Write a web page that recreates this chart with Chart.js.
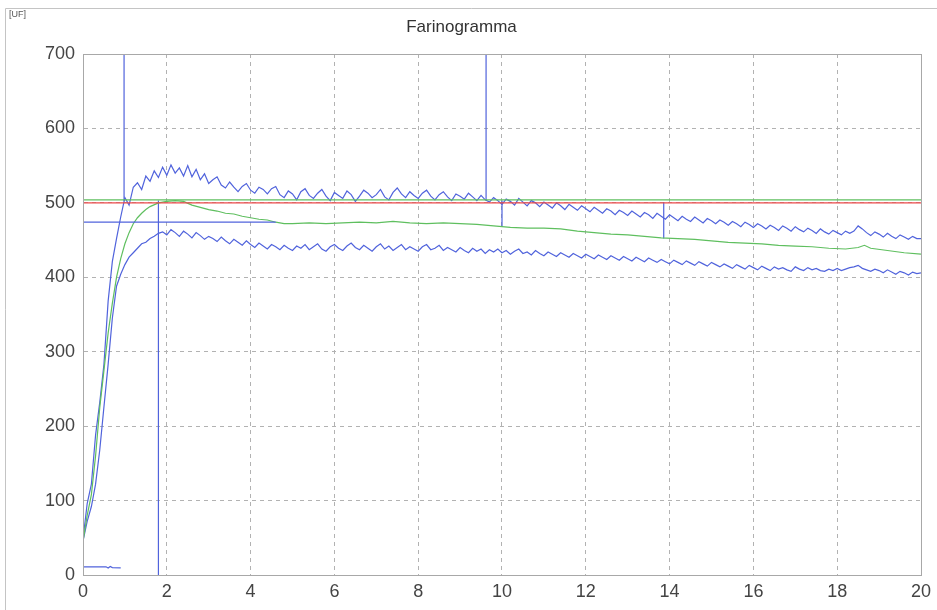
<!DOCTYPE html>
<html>
<head>
<meta charset="utf-8">
<title>Farinogramma</title>
<script src="https://cdn.jsdelivr.net/npm/chart.js@4/dist/chart.umd.min.js"></script>
<style>
    html, body { margin: 0; padding: 0; background: #fff; }
    #wrap { position: relative; width: 937px; height: 610px; }
</style>
</head>
<body>
<div id="wrap"><canvas id="farinoChart" width="937" height="610"></canvas></div>
<script>
// ── Data ─────────────────────────────────────────────────────
const TITLE      = 'Farinogramma';
const UNIT_LABEL = '[UF]';
const SAMPLE_STEP = 0.1;   // minutes between samples of the band curves

// upper band edge, one value every 0.1 min from 0 to 20
const upperBand = [
    48, 96, 122, 188, 232, 283, 368, 421, 452, 481,
    507, 497, 521, 527, 518, 536, 529, 543, 534, 548,
    537, 551, 540, 547, 536, 550, 535, 545, 531, 539,
    526, 531, 535, 524, 520, 528, 521, 515, 522, 526,
    517, 513, 521, 518, 512, 519, 522, 511, 507, 516,
    512, 504, 515, 519, 510, 506, 513, 518, 509, 503,
    514, 510, 506, 516, 511, 502, 509, 517, 513, 507,
    511, 518, 508, 504, 514, 520, 512, 507, 515, 510,
    506, 513, 517, 509, 504, 511, 515, 508, 503, 512,
    509, 505, 513, 508, 503, 510, 504, 501, 507, 503,
    498, 505, 502, 497, 506, 501, 496, 503, 500, 495,
    501, 497, 493, 500, 496, 491, 498, 494, 490, 496,
    492, 488, 494, 490, 486, 492, 489, 484, 490, 487,
    483, 489, 485, 481, 487, 484, 479, 486, 482, 478,
    484, 480, 476, 482, 478, 475, 481, 477, 473, 479,
    476, 472, 477, 474, 470, 475, 472, 468, 474, 471,
    467, 472, 469, 465, 470, 467, 463, 469, 466, 462,
    468, 464, 461, 466, 463, 459, 465, 461, 458, 463,
    460, 457, 462, 459, 462, 469, 465, 460, 456, 461,
    458, 454, 459, 455, 452, 457, 454, 451, 455, 452,
    452
];

// lower band edge, same sampling
const lowerBand = [
    46, 72, 92, 122, 168, 226, 283, 345, 388, 404,
    417, 427, 433, 439, 445, 447, 452, 455, 459, 461,
    457, 464, 460, 455, 462, 458, 453, 460, 456, 451,
    455, 452, 448, 454, 449, 445, 451, 447, 443, 449,
    444, 440, 446, 442, 438, 444, 441, 437, 443, 439,
    436, 442, 439, 444, 437, 441, 445, 438, 435, 441,
    444, 439, 436, 442, 446, 440, 437, 443, 439, 435,
    441, 445, 438, 442, 436, 440, 444, 437, 441, 438,
    435, 441, 444, 437, 439, 443, 436, 440, 437, 434,
    440, 436, 433, 439, 435, 438, 432, 437, 434, 438,
    433, 436, 431, 435, 438, 432, 434, 430, 436, 432,
    429, 434, 431, 428, 433, 430, 427, 432, 429, 426,
    431, 428, 425, 430, 427, 424, 429, 426, 423, 428,
    425, 422, 427, 424, 421, 426, 423, 420, 424, 421,
    418, 423, 420, 417, 422, 419, 416, 421, 418, 415,
    420, 417, 414, 418, 415, 412, 417, 414, 411, 416,
    413, 410, 415, 412, 409, 414, 411, 413, 410, 408,
    414, 411, 409, 413, 410, 412, 409, 408, 411, 409,
    412, 409, 411, 413, 414, 416, 412, 410, 408, 411,
    409, 406, 410, 407, 404, 408, 406, 403, 407, 405,
    406
];

// smoothed middle curve
const medianTime = [
    0, 0.1, 0.2, 0.3, 0.4, 0.5, 0.6, 0.7, 0.8, 0.9,
    1.0, 1.1, 1.2, 1.3, 1.4, 1.5, 1.6, 1.8, 2.0, 2.2,
    2.4, 2.6, 2.8, 3.0, 3.2, 3.4, 3.6, 3.8, 4.0, 4.2,
    4.4, 4.6, 4.8, 5.0, 5.4, 5.8, 6.2, 6.6, 7.0, 7.4,
    7.8, 8.2, 8.6, 9.0, 9.4, 9.8, 10.2, 10.6, 11.0, 11.4,
    11.8, 12.2, 12.6, 13.0, 13.4, 13.8, 14.2, 14.6, 15.0, 15.4,
    15.8, 16.2, 16.6, 17.0, 17.4, 17.8, 18.2, 18.5, 18.65, 18.8,
    19.2, 19.6, 20.0
];
const medianValue = [
    45, 80, 108, 160, 225, 275, 325, 365, 400, 425,
    445, 460, 472, 480, 486, 491, 495, 500, 502, 503,
    502, 497, 494, 491, 489, 486, 485, 482, 480, 478,
    477, 474, 472, 472, 473, 472, 473, 474, 473, 475,
    473, 472, 473, 472, 471, 469, 467, 466, 466, 465,
    462, 460, 458, 457, 455, 453, 452, 451, 449, 447,
    446, 445, 443, 442, 441, 439, 438, 440, 443, 439,
    436, 433, 431
];

// reference levels
const consistencyLine = 500;   // red
const peakLine        = 504;   // green
const arrivalLine     = 474;   // blue, 0 → 4.6 min
const arrivalEnd      = 4.6;

// vertical markers
const markerX      = [0.98, 1.8, 9.62, 10.0, 13.86];
const markerTop    = [700, 503, 700, 503, 501];
const markerBottom = [502, 0, 503, 468, 452];

// baseline trace near zero
const baseTime  = [0, 0, 0.55, 0.6, 0.65, 0.7, 0.9];
const baseValue = [0, 11, 11, 9.5, 11.5, 10, 9.5];

const xTicksMax = 20;
const yTicksMax = 700;

// ── Helpers ───────────────────────────────────────────────────
const BLUE  = '#5063dc';
const GREEN = '#5fbf5f';
const RED   = '#ec4a4a';
const GRID  = '#b2b2b2';

const sampled = ys => ys.map((y, i) => ({ x: +(i * SAMPLE_STEP).toFixed(2), y }));
const paired  = (xs, ys) => xs.map((x, i) => ({ x, y: ys[i] }));

function lineSet(data, color, width) {
    return {
        data,
        borderColor: color,
        borderWidth: width || 1.2,
        pointRadius: 0,
        tension: 0,
        fill: false
    };
}

const datasets = [
    lineSet(paired([0, xTicksMax], [peakLine, peakLine]), GREEN, 1.2),
    lineSet(paired([0, xTicksMax], [consistencyLine, consistencyLine]), RED, 1.2),
    lineSet(paired([0, arrivalEnd], [arrivalLine, arrivalLine]), BLUE, 1.2),
    lineSet(paired(medianTime, medianValue), GREEN, 1.2),
    lineSet(sampled(upperBand), BLUE, 1.2),
    lineSet(sampled(lowerBand), BLUE, 1.2),
    lineSet(paired(baseTime, baseValue), BLUE, 1.2)
];
markerX.forEach((x, i) => {
    datasets.push(lineSet(paired([x, x], [markerTop[i], markerBottom[i]]), BLUE, 1.2));
});

// ── Frame + unit label ────────────────────────────────────────
const framePlugin = {
    id: 'frame',
    afterDraw(chart) {
        const { ctx, chartArea: a } = chart;
        ctx.save();
        ctx.strokeStyle = '#a8a8a8';
        ctx.lineWidth = 1;
        ctx.strokeRect(a.left + 0.5, a.top + 0.5, a.right - a.left, a.bottom - a.top);

        ctx.strokeStyle = '#c4c4c4';
        ctx.beginPath();
        ctx.moveTo(5.5, 610);
        ctx.lineTo(5.5, 8.5);
        ctx.lineTo(937, 8.5);
        ctx.stroke();

        ctx.fillStyle = '#555';
        ctx.font = '9px "Liberation Sans", Arial, sans-serif';
        ctx.textBaseline = 'middle';
        ctx.fillText(UNIT_LABEL, 9, 15);
        ctx.restore();
    }
};

// hide the grid line that sits on the frame edge
const gridColor = max => c => (c.tick && c.tick.value === max ? 'rgba(0,0,0,0)' : GRID);

// ── Chart ─────────────────────────────────────────────────────
const tickFont = { family: '"Liberation Sans", Arial, sans-serif', size: 18 };

new Chart(document.getElementById('farinoChart').getContext('2d'), {
    type: 'line',
    data: { datasets },
    plugins: [framePlugin],
    options: {
        responsive: false,
        animation: false,
        layout: { padding: { top: 0, right: 14, left: 0, bottom: 0 } },
        plugins: {
            legend: { display: false },
            tooltip: { enabled: false },
            title: {
                display: true,
                text: TITLE,
                color: '#333',
                font: { family: '"Liberation Sans", Arial, sans-serif', size: 17, weight: 'normal' },
                padding: { top: 17, bottom: 16.6 }
            }
        },
        scales: {
            x: {
                type: 'linear',
                min: 0,
                max: xTicksMax,
                ticks: { stepSize: 2, color: '#444', font: tickFont, padding: 6, maxRotation: 0 },
                grid: { color: gridColor(xTicksMax), drawTicks: false, lineWidth: 1 },
                border: { color: '#a8a8a8', dash: [4, 4] },
                afterFit: s => { s.height = 35; }
            },
            y: {
                min: 0,
                max: yTicksMax,
                ticks: { stepSize: 100, color: '#444', font: tickFont, padding: 8 },
                grid: { color: gridColor(yTicksMax), drawTicks: false, lineWidth: 1 },
                border: { color: '#a8a8a8', dash: [4, 4] },
                afterFit: s => { s.width = 83; }
            }
        }
    }
});
</script>
</body>
</html>
